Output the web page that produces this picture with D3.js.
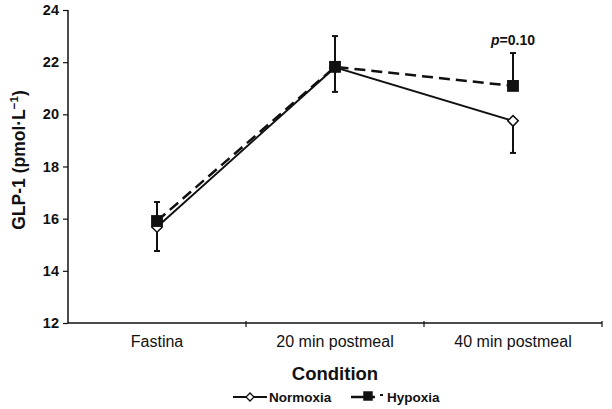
<!DOCTYPE html>
<html>
<head>
<meta charset="utf-8">
<script src="https://cdn.jsdelivr.net/npm/d3@7"></script>
<style>
  body { margin: 0; background: #fff; }
  svg { font-family: "Liberation Sans", Arial, sans-serif; }
</style>
</head>
<body>
<svg width="612" height="409"></svg>
<script>
// data
var conditions = ["Fastina", "20 min postmeal", "40 min postmeal"];
var normoxia = [15.68, 21.8, 19.75];
var normoxiaLow = [14.76, 20.86, 18.52];   // lower error ends
var hypoxia = [15.91, 21.82, 21.09];
var hypoxiaHigh = [16.64, 23.0, 22.35];    // upper error ends
var yTicks = [12, 14, 16, 18, 20, 22, 24];

var svg = d3.select("svg"),
    plotL = 68, plotR = 602, plotT = 10, plotB = 323;

var xScale = d3.scaleBand().domain(conditions).range([plotL, plotR]),
    yScale = d3.scaleLinear().domain([12, 24]).range([plotB, plotT]);

var cx = function(i) { return xScale(conditions[i]) + xScale.bandwidth() / 2; };

// y axis
var yAxis = svg.append("g")
    .attr("transform", "translate(" + plotL + ",0)")
    .call(d3.axisLeft(yScale).tickValues(yTicks).tickSize(5).tickPadding(4));
yAxis.select(".domain").attr("stroke", "#111").attr("stroke-width", 1.5).attr("d", "M0," + plotT + "V" + plotB);
yAxis.selectAll(".tick line").attr("stroke", "#111").attr("stroke-width", 1.2);
yAxis.selectAll(".tick text")
    .attr("font-size", "14.5px").attr("font-weight", "bold").attr("fill", "#111")
    .attr("font-family", "Liberation Sans, Arial, sans-serif");

// x axis
var xAxis = svg.append("g")
    .attr("transform", "translate(0," + plotB + ")")
    .call(d3.axisBottom(xScale).tickSize(0).tickPadding(13));
xAxis.select(".domain").attr("stroke", "#111").attr("stroke-width", 1.5).attr("d", "M" + plotL + ",0H" + plotR);
xAxis.selectAll(".tick text")
    .attr("font-size", "16px").attr("fill", "#111")
    .attr("font-family", "Liberation Sans, Arial, sans-serif");
// separator ticks between categories
xAxis.selectAll(".sep")
    .data(conditions.slice(1).concat(["end"]))
    .enter().append("line")
    .attr("x1", function(d) { return d === "end" ? plotR : xScale(d); })
    .attr("x2", function(d) { return d === "end" ? plotR : xScale(d); })
    .attr("y1", -2).attr("y2", 4)
    .attr("stroke", "#111").attr("stroke-width", 1.2);

// axis titles
svg.append("text")
    .attr("transform", "translate(25,160) rotate(-90)")
    .attr("text-anchor", "middle")
    .attr("font-size", "17.5px").attr("font-weight", "bold").attr("fill", "#111")
    .html("GLP-1 (pmol·L<tspan dy='-7' font-size='11.5px'>−1</tspan><tspan dy='7'>)</tspan>");

svg.append("text")
    .attr("x", (plotL + plotR) / 2).attr("y", 380)
    .attr("text-anchor", "middle")
    .attr("font-size", "18.5px").attr("font-weight", "bold").attr("fill", "#111")
    .text("Condition");

// error bars
function errBar(i, v0, v1) {
    svg.append("line")
        .attr("x1", cx(i)).attr("x2", cx(i))
        .attr("y1", yScale(v0)).attr("y2", yScale(v1))
        .attr("stroke", "#111").attr("stroke-width", 2);
    svg.append("line")
        .attr("x1", cx(i) - 3).attr("x2", cx(i) + 3)
        .attr("y1", yScale(v1)).attr("y2", yScale(v1))
        .attr("stroke", "#111").attr("stroke-width", 2);
}
conditions.forEach(function(c, i) {
    errBar(i, hypoxia[i], hypoxiaHigh[i]);
    errBar(i, normoxia[i], normoxiaLow[i]);
});

var line = d3.line()
    .x(function(d, i) { return cx(i); })
    .y(function(d) { return yScale(d); });

svg.append("path")
    .datum(normoxia)
    .attr("d", line)
    .attr("fill", "none").attr("stroke", "#111").attr("stroke-width", 2);

svg.append("path")
    .datum(hypoxia)
    .attr("d", line)
    .attr("fill", "none").attr("stroke", "#111").attr("stroke-width", 2.5)
    .attr("stroke-dasharray", "11,6");

// markers
svg.selectAll(".nx")
    .data(normoxia)
    .enter().append("path")
    .attr("transform", function(d, i) { return "translate(" + cx(i) + "," + yScale(d) + ") rotate(45)"; })
    .attr("d", d3.symbol().type(d3.symbolSquare).size(55))
    .attr("fill", "#fff").attr("stroke", "#111").attr("stroke-width", 1.5);

svg.selectAll(".hx")
    .data(hypoxia)
    .enter().append("path")
    .attr("transform", function(d, i) { return "translate(" + cx(i) + "," + yScale(d) + ")"; })
    .attr("d", d3.symbol().type(d3.symbolSquare).size(140))
    .attr("fill", "#111");

// p value annotation
svg.append("text")
    .attr("x", cx(2)).attr("y", 45)
    .attr("text-anchor", "middle")
    .attr("font-size", "14px").attr("font-weight", "bold").attr("fill", "#111")
    .html("<tspan font-style='italic'>p</tspan>=0.10");

// legend
var lg = svg.append("g").attr("transform", "translate(0,397)");
lg.append("line").attr("x1", 233).attr("x2", 267).attr("y1", 0).attr("y2", 0)
    .attr("stroke", "#111").attr("stroke-width", 2);
lg.append("path").attr("transform", "translate(250,0) rotate(45)")
    .attr("d", d3.symbol().type(d3.symbolSquare).size(32))
    .attr("fill", "#fff").attr("stroke", "#111").attr("stroke-width", 1.3);
lg.append("text").attr("x", 269).attr("y", 5)
    .attr("font-size", "13.5px").attr("font-weight", "bold").attr("fill", "#111")
    .text("Normoxia");

lg.append("line").attr("x1", 351).attr("x2", 375).attr("y1", 0).attr("y2", 0)
    .attr("stroke", "#111").attr("stroke-width", 2.5);
lg.append("path").attr("transform", "translate(368,-1)")
    .attr("d", d3.symbol().type(d3.symbolSquare).size(90))
    .attr("fill", "#111");
lg.append("line").attr("x1", 380).attr("x2", 383).attr("y1", -2).attr("y2", -2)
    .attr("stroke", "#111").attr("stroke-width", 2);
lg.append("text").attr("x", 387).attr("y", 5)
    .attr("font-size", "13.5px").attr("font-weight", "bold").attr("fill", "#111")
    .text("Hypoxia");
</script>
</body>
</html>
